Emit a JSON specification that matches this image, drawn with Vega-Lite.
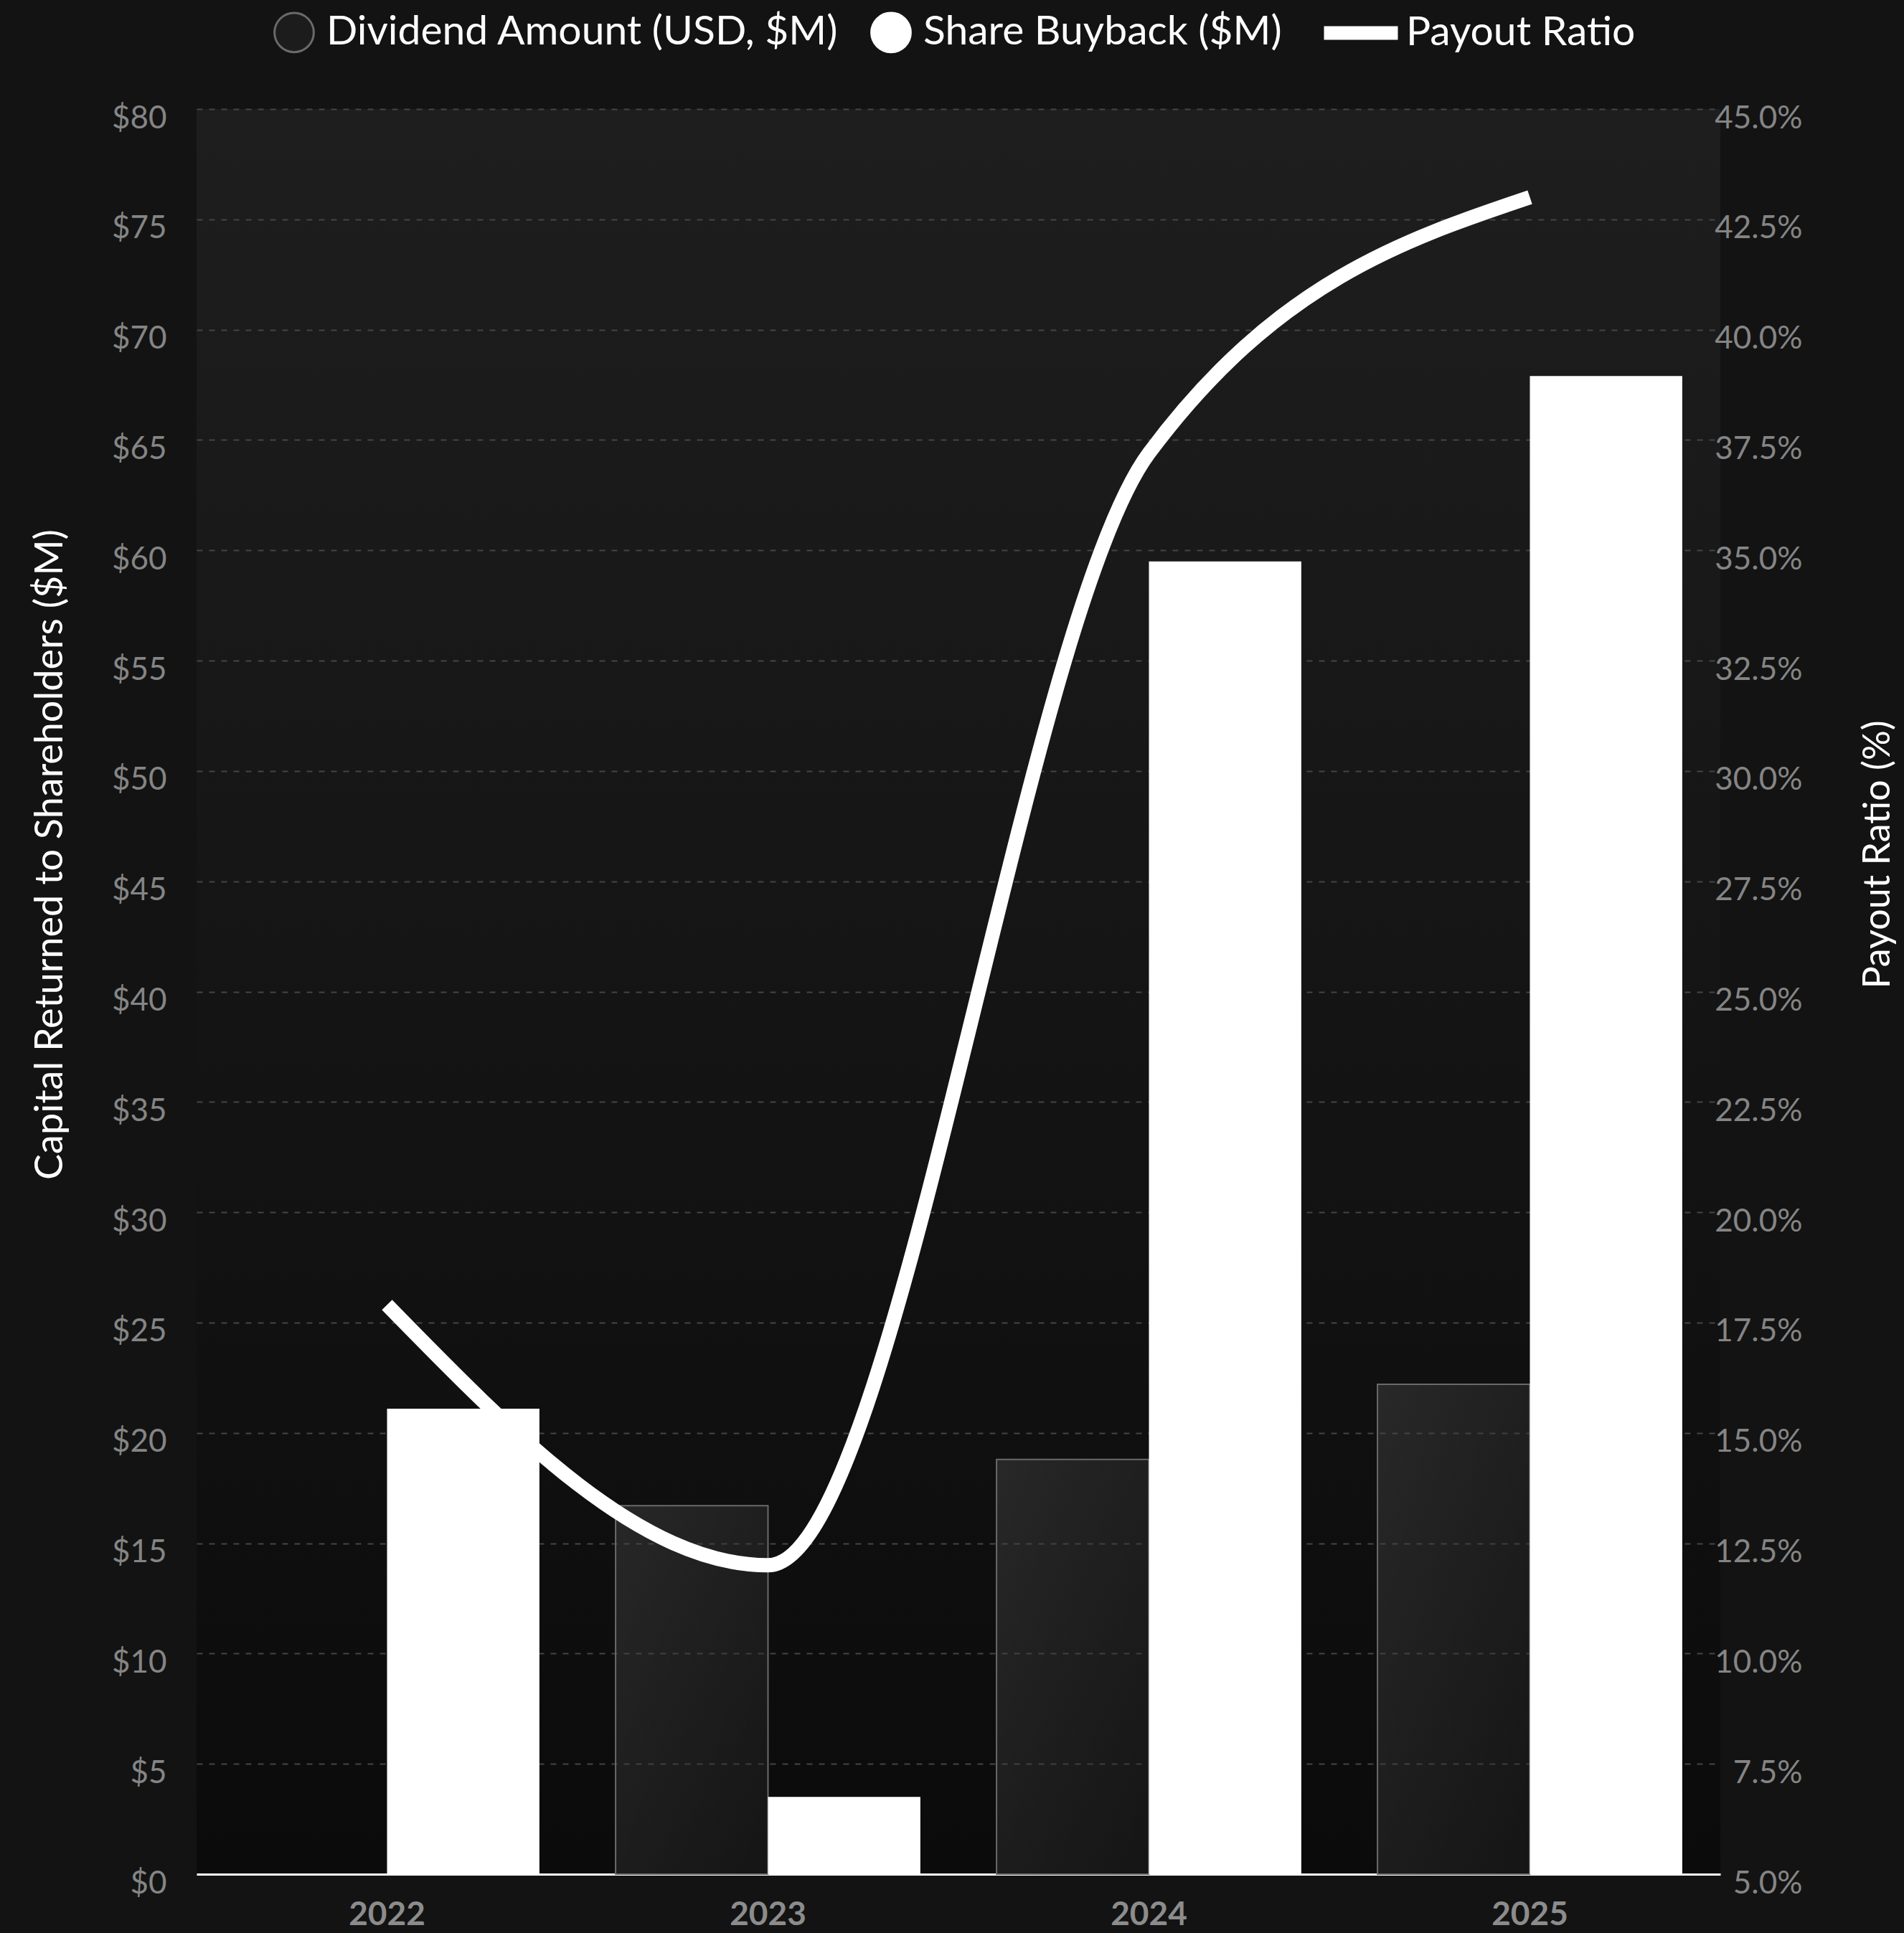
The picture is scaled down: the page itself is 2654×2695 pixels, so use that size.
{
  "$schema": "https://vega.github.io/schema/vega-lite/v6.json",
  "autosize": {"type": "none"},
  "width": 2124,
  "height": 2461,
  "padding": {"left": 274, "top": 152, "right": 256, "bottom": 82},
  "background": "#131313",
  "config": {
    "font": "Lato",
    "view": {"stroke": null, "fill": {"gradient": "linear", "x1": 0, "y1": 0, "x2": 0, "y2": 1, "stops": [{"offset": 0, "color": "#1e1e1e"}, {"offset": 1, "color": "#0b0b0b"}]}},
    "axis": {"labelFont": "Lato", "titleFont": "Lato"}
  },
  "datasets": {
    "bars": [
      {"year": "2022", "series": "Share Buyback ($M)", "value": 21.1},
      {"year": "2023", "series": "Dividend Amount (USD, $M)", "value": 16.7},
      {"year": "2023", "series": "Share Buyback ($M)", "value": 3.5},
      {"year": "2024", "series": "Dividend Amount (USD, $M)", "value": 18.8},
      {"year": "2024", "series": "Share Buyback ($M)", "value": 59.5},
      {"year": "2025", "series": "Dividend Amount (USD, $M)", "value": 22.2},
      {"year": "2025", "series": "Share Buyback ($M)", "value": 67.9}
    ],
    "payout": [
      {"year": "2022", "ratio": 17.9},
      {"year": "2023", "ratio": 12.0},
      {"year": "2024", "ratio": 37.2},
      {"year": "2025", "ratio": 43.0}
    ]
  },
  "layer": [
    {
      "data": {"name": "bars"},
      "mark": {"type": "bar", "strokeWidth": 2},
      "encoding": {
        "x": {
          "field": "year", "type": "nominal",
          "scale": {"domain": ["2022", "2023", "2024", "2025"], "paddingInner": 0.2, "paddingOuter": 0.1},
          "axis": {"title": null, "labelAngle": 0, "labelFontSize": 46, "labelFontWeight": "bold", "labelColor": "#8c8c8c", "labelPadding": 34, "ticks": false, "domainColor": "#ffffff", "domainWidth": 3, "grid": false}
        },
        "xOffset": {"field": "series", "type": "nominal", "scale": {"domain": ["Dividend Amount (USD, $M)", "Share Buyback ($M)"]}},
        "y": {
          "field": "value", "type": "quantitative",
          "scale": {"domain": [0, 80], "nice": false},
          "axis": {
            "orient": "left",
            "title": "Capital Returned to Shareholders ($M)",
            "titleColor": "#ffffff", "titleFontSize": 54, "titleFontWeight": "normal", "titlePadding": 58, "titleY": 1039,
            "values": [0, 5, 10, 15, 20, 25, 30, 35, 40, 45, 50, 55, 60, 65, 70, 75, 80],
            "labelExpr": "'$' + datum.value",
            "labelFontSize": 44, "labelColor": "#858585", "labelPadding": 42, "labelOffset": 13,
            "ticks": false, "domain": false,
            "grid": true, "gridColor": "#454545", "gridDash": [8, 9], "gridWidth": 2
          }
        },
        "fill": {
          "field": "series", "type": "nominal",
          "condition": {"test": "datum.series === 'Dividend Amount (USD, $M)'", "value": {"gradient": "linear", "x1": 0, "y1": 0, "x2": 1, "y2": 1, "stops": [{"offset": 0, "color": "rgba(70,70,70,0.45)"}, {"offset": 1, "color": "rgba(40,40,40,0.35)"}]}},
          "scale": {"domain": ["Dividend Amount (USD, $M)", "Share Buyback ($M)"], "range": ["#1c1c1c", "#ffffff"]},
          "legend": {
            "orient": "none", "legendX": 107, "legendY": -136, "direction": "horizontal",
            "title": null, "symbolType": "circle", "symbolSize": 3000,
            "labelFontSize": 57, "labelColor": "#ffffff", "labelFont": "Lato", "labelLimit": 2000,
            "labelOffset": 16, "columnPadding": 38, "padding": 0,
            "symbolStrokeWidth": 3, "symbolStrokeColor": "#6a6a6a", "symbolOpacity": 1,
            "encode": {"symbols": {"update": {"stroke": {"signal": "datum.value === 'Dividend Amount (USD, $M)' ? '#6a6a6a' : '#ffffff'"}, "strokeWidth": {"value": 3}}}}
          }
        },
        "stroke": {"condition": {"test": "datum.series === 'Dividend Amount (USD, $M)'", "value": "#6a6a6a"}, "value": null}
      }
    },
    {
      "data": {"name": "payout"},
      "mark": {"type": "line", "interpolate": "monotone", "strokeWidth": 20},
      "encoding": {
        "x": {"field": "year", "type": "nominal"},
        "y": {
          "field": "ratio", "type": "quantitative",
          "scale": {"domain": [5, 45], "nice": false},
          "axis": {
            "orient": "right",
            "title": "Payout Ratio (%)",
            "titleColor": "#ffffff", "titleFontSize": 52, "titleFontWeight": "normal", "titleAngle": 270, "titlePadding": 132, "titleY": 1039,
            "values": [5, 7.5, 10, 12.5, 15, 17.5, 20, 22.5, 25, 27.5, 30, 32.5, 35, 37.5, 40, 42.5, 45],
            "labelExpr": "format(datum.value, '.1f') + '%'",
            "labelFontSize": 44, "labelColor": "#858585", "labelAlign": "right", "labelPadding": 114, "labelOffset": 13,
            "ticks": false, "domain": false, "grid": false
          }
        },
        "stroke": {
          "datum": "Payout Ratio", "type": "nominal",
          "scale": {"domain": ["Payout Ratio"], "range": ["#ffffff"]},
          "legend": {
            "orient": "none", "legendX": 1562, "legendY": -167, "direction": "horizontal",
            "title": null, "symbolType": "stroke", "symbolSize": 10609, "symbolStrokeWidth": 19,
            "labelFontSize": 57, "labelColor": "#ffffff", "labelFont": "Lato", "labelLimit": 2000, "labelOffset": 2, "padding": 0
          }
        }
      }
    }
  ],
  "resolve": {"scale": {"y": "independent"}}
}
